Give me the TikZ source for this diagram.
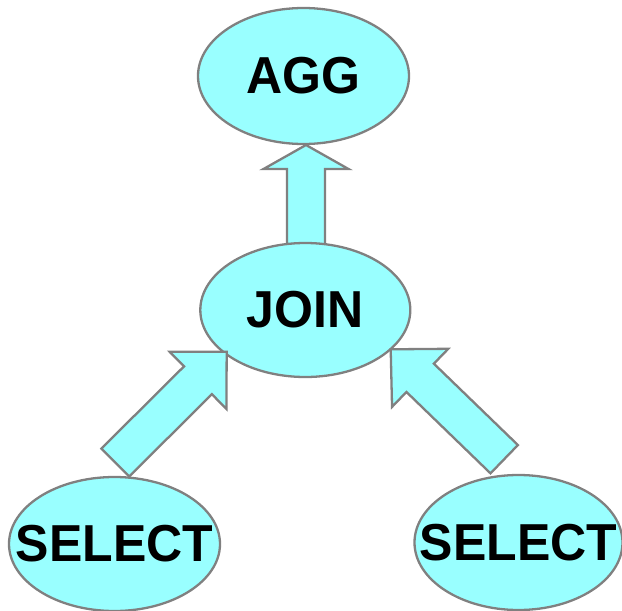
\documentclass[tikz,border=0pt]{standalone}
\usepackage{fontspec}
\setmainfont{Liberation Sans}
\usetikzlibrary{calc,shapes.geometric,backgrounds}

\definecolor{opfill}{HTML}{99FFFF}
\definecolor{opline}{HTML}{808080}

\tikzset{
  opnode/.style={ellipse, draw=opline, fill=opfill, line width=2.3pt,
    inner sep=0pt, minimum width=211pt, minimum height=135pt,
    font=\fontsize{50}{60}\selectfont\bfseries},
  blockarrow/.style={draw=opline, fill=opfill, line width=2.3pt, line join=miter}
}

% operator label: bold caps, set a little taller than wide
\newcommand\oplabel[1]{\makebox[0pt]{\scalebox{1}[1.04]{#1}}}

% Fat block arrow: #1 tail, #2 tip, #3 shaft half width, #4 head half width, #5 head length
\newcommand\fatarrow[5]{%
  \path (#1) coordinate (fa-a) (#2) coordinate (fa-b);
  \coordinate (fa-c) at ($(fa-b)!#5pt!(fa-a)$);
  \filldraw[blockarrow]
    ($(fa-a)!#3pt!90:(fa-b)$) -- ($(fa-c)!#3pt!-90:(fa-a)$) --
    ($(fa-c)!#4pt!-90:(fa-a)$) -- (fa-b) --
    ($(fa-c)!#4pt!90:(fa-a)$) -- ($(fa-c)!#3pt!90:(fa-a)$) --
    ($(fa-a)!#3pt!-90:(fa-b)$) -- cycle;}

\begin{document}
\begin{tikzpicture}[x=1pt, y=-1pt]
  \useasboundingbox (0,0) rectangle (622,611);

  % operator nodes
  \node[opnode, minimum height=136pt] (agg)  at (303.5,76)  {\oplabel{AGG}};
  \node[opnode, minimum width=210pt, minimum height=134pt] (join) at (305.3,310) {\oplabel{JOIN}};
  \node[opnode, minimum height=134pt] (selL) at (114.5,544) {\oplabel{SELECT}};
  \node[opnode, minimum width=208pt, minimum height=135pt] (selR) at (518.5,542.5) {\oplabel{SELECT}};

  % arrow end points
  \coordinate (upTail) at (306,252);
  \coordinate (upTip)  at (306,145);
  \coordinate (lTail)  at (115.3,462.5);
  \coordinate (lTip)   at (226.7,351.7);
  \coordinate (rTail)  at (504.2,459.2);
  \coordinate (rTip)   at (390.7,349.3);

  % JOIN -> AGG, passing under the JOIN ellipse
  \begin{scope}[on background layer]
    \fatarrow{upTail}{upTip}{19}{42.5}{24}
  \end{scope}

  % SELECT -> JOIN
  \fatarrow{lTail}{lTip}{19.7}{40.3}{40.5}
  \fatarrow{rTail}{rTip}{19.7}{40.4}{41}
\end{tikzpicture}
\end{document}
